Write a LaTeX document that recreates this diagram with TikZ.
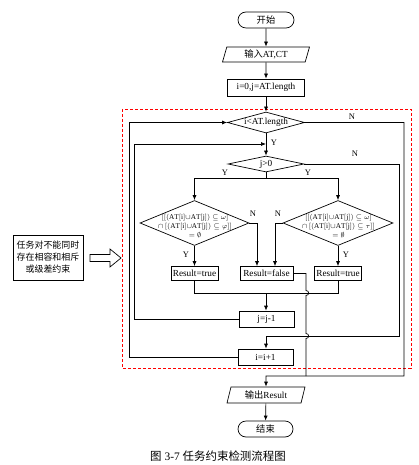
\documentclass[tikz,border=0pt]{standalone}
\usepackage{fontspec}
\setmainfont{Liberation Serif}
\newfontfamily\cjk{Noto Sans CJK SC}
\usetikzlibrary{shapes.geometric,arrows.meta}
\newcommand{\mAT}[1]{\mathrm{AT}[\mathrm{#1}]}
\newcommand{\mcup}{\mathbin{\cup}}
\begin{document}
\begin{tikzpicture}[x=1bp,y=-1bp,
  line width=0.7pt,
  txt/.style={font=\fontsize{9.3}{10}\selectfont},
  boxn/.style={draw,rectangle,inner sep=0pt,txt},
  term/.style={draw,rectangle,rounded corners=8bp,minimum width=56bp,minimum height=16bp,inner sep=0pt,txt},
  para/.style={draw,trapezium,trapezium left angle=65,trapezium right angle=115,trapezium stretches body,inner sep=0pt,txt},
  dia/.style={draw,diamond,inner sep=0pt},
  lab/.style={font=\fontsize{8.5}{9}\selectfont,inner sep=0pt},
  arr/.style={-{Latex[length=5bp,width=4bp]}},
  cond/.style={font=\fontsize{7.3}{9}\selectfont,align=center,inner sep=0pt}]
\useasboundingbox (0,0) rectangle (418,465);

% red dashed frame
\draw[red,dash pattern=on 3bp off 2bp,line width=0.7pt] (122,109) rectangle (411,368);

% nodes
\node[term] (start) at (266,20) {{\cjk 开始}};
\node[para,minimum width=87bp,minimum height=15bp] (input) at (266,54.5) {{\cjk 输入}AT,CT};
\node[boxn,minimum width=77bp,minimum height=17bp] (init) at (266,87.5) {i=0,j=AT.length};
\node[dia,minimum width=77bp,minimum height=21bp] (d1) at (266,122.5) {};
\node[txt,inner sep=0pt] (d1t) at (d1) {i<AT.length};
\node[dia,minimum width=76bp,minimum height=16bp] (d2) at (266,164) {};
\node[txt,inner sep=0pt] (d2t) at (d2) {j>0};
\node[dia,minimum width=109bp,minimum height=45bp] (d3) at (194.5,223) {};
\node[cond] (d3t) at (195,226) {$[[(\mAT{i}{\cup}\mAT{j})\subseteq\omega]$\\$\cap\,[(\mAT{i}{\cup}\mAT{j})\subseteq\varphi]]$\\$=\emptyset$};
\node[dia,minimum width=110bp,minimum height=45bp] (d4) at (338,223) {};
\node[cond] (d4t) at (338.5,226) {$[[(\mAT{i}{\cup}\mAT{j})\subseteq\omega]$\\$\cap\,[(\mAT{i}{\cup}\mAT{j})\subseteq\tau]]$\\$=\emptyset$};
\node[boxn,minimum width=47bp,minimum height=14bp] (rt1) at (194.5,273.5) {Result=true};
\node[boxn,minimum width=53bp,minimum height=14bp] (rf) at (266.5,273.5) {Result=false};
\node[boxn,minimum width=47bp,minimum height=14bp] (rt2) at (338,273.5) {Result=true};
\node[boxn,minimum width=55bp,minimum height=16bp] (jj) at (266.5,319) {j=j-1};
\node[boxn,minimum width=55bp,minimum height=16bp] (ii) at (265.5,357) {i=i+1};
\node[para,minimum width=78bp,minimum height=16bp] (out) at (266,395) {{\cjk 输出}Result};
\node[term,minimum width=55bp] (end) at (265.5,429) {{\cjk 结束}};

% side note
\node[draw,rectangle,minimum width=70bp,minimum height=45bp,inner sep=0pt,align=center,
      font=\cjk\fontsize{9}{12}\selectfont] (note) at (48,257.5) {任务对不能同时\\存在相容和相斥\\或级差约束};
\draw[line width=0.7pt] (90,254.5) -- (110,254.5) -- (110,249) -- (121,258) -- (110,267) -- (110,261.5) -- (90,261.5) -- cycle;

% helper coordinates
\coordinate (L1) at (129,0);
\coordinate (L2) at (134,0);
\coordinate (R1) at (404,0);
\coordinate (R2) at (399,0);
\coordinate (F) at (306,0);
\coordinate (f1) at (257,0);
\coordinate (f2) at (275,0);
\coordinate (m1) at (266,144);
\coordinate (sp) at (266,178);
\coordinate (m2) at (266,293);
\coordinate (m4) at (266,336);
\coordinate (m3) at (266,376);

% main flow
\draw[arr] (start) -- (input);
\draw[arr] (input) -- (init);
\draw[arr] (init) -- (d1);
\draw[arr] (d1) -- (d2);
\draw (d2.south) -- (sp);
\draw[arr] (sp) -- (sp -| d3.north) -- (d3.north);
\draw[arr] (sp) -- (sp -| d4.north) -- (d4.north);
\draw[arr] (d3.east) -- (d3.east -| f1) -- (rf.north -| f1);
\draw[arr] (d4.west) -- (d4.west -| f2) -- (rf.north -| f2);
\draw[arr] (d3) -- (rt1);
\draw[arr] (d4) -- (rt2);
\draw (rt1.south) -- (rt1.south |- m2) -- (rt2.south |- m2) -- (rt2.south);
\draw[arr] (m2) -- (jj.north -| m2);
% inner loop back
\draw[arr] (jj.west) -- (jj.west -| L2) -- (m1 -| L2) -- (m1);
% outer loop back
\draw[arr] (ii.west) -- (ii.west -| L1) -- (d1.west -| L1) -- (d1.west);
% j>0 N
\draw[arr] (d2.east) -- (d2.east -| R2) -- (m4 -| R2) -- (m4) -- (ii.north -| m4);
% i<AT.length N
\draw[arr] (d1.east) -- (d1.east -| R1) -- (m3 -| R1) -- (m3) -- (out.north);
% Result=false line
\draw (rf.east) -- (rf.east -| F) -- (306,290.5) .. controls (309.5,290.5) and (309.5,295.5) .. (306,295.5)
      -- (306,333.5) .. controls (309.5,333.5) and (309.5,338.5) .. (306,338.5) -- (m3 -| F);
\draw[arr] (out) -- (end);

% labels
\node[lab] (ly1) at (274,143) {Y};
\node[lab] (ly2) at (225,173) {Y};
\node[lab] (ly3) at (308,173) {Y};
\node[lab] (ly4) at (186,255) {Y};
\node[lab] (ly5) at (346,255) {Y};
\node[lab] (ln1) at (352,117) {N};
\node[lab] (ln2) at (355,154) {N};
\node[lab] (ln3) at (253,214) {N};
\node[lab] (ln4) at (278,214) {N};

% caption
\node[font=\fontsize{11.5}{12}\selectfont,inner sep=0pt] (cap) at (218,456) {{\cjk 图} 3-7 {\cjk 任务约束检测流程图}};
\end{tikzpicture}
\end{document}
